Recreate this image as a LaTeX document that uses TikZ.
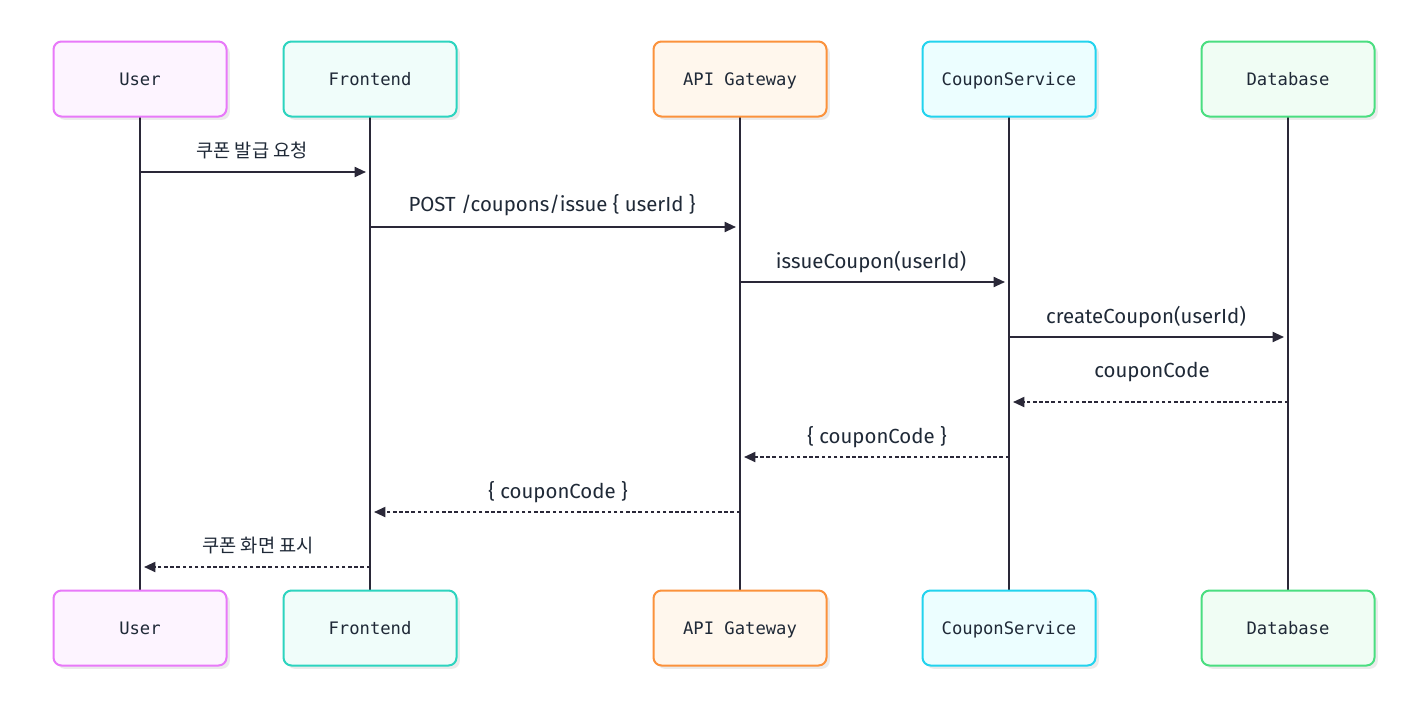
\documentclass[tikz,border=0pt]{standalone}
\usepackage{fontspec}
\setmainfont{Fira Sans}
\newfontfamily\kr{Noto Sans CJK KR}
\newfontfamily\boxfont{DejaVu Sans Mono}
\usetikzlibrary{arrows.meta,shadows}
\definecolor{ink}{HTML}{2A2838}
\definecolor{txt}{HTML}{1F2937}
\definecolor{uB}{HTML}{E879F9}\definecolor{uF}{HTML}{FDF4FF}
\definecolor{fB}{HTML}{2DD4BF}\definecolor{fF}{HTML}{F0FDFA}
\definecolor{aB}{HTML}{FB923C}\definecolor{aF}{HTML}{FFF7ED}
\definecolor{cB}{HTML}{22D3EE}\definecolor{cF}{HTML}{ECFEFF}
\definecolor{dB}{HTML}{4ADE80}\definecolor{dF}{HTML}{F0FDF4}
\begin{document}
\begin{tikzpicture}[x=0.75pt,y=-0.75pt,
  actor/.style={rounded corners=6pt, line width=1.5pt, minimum width=129.75pt, minimum height=56.25pt,
    font=\boxfont\fontsize{12.9}{14}\selectfont, text=txt, inner sep=0pt,
    text height=9.4pt, text depth=0pt,
    drop shadow={shadow xshift=2.5pt, shadow yshift=-2.5pt, fill=black, opacity=0.08}},
  life/.style={ink, line width=1.5pt},
  msg/.style={ink, line width=1.4pt, -{Triangle[length=8.5pt,width=7.5pt]}},
  ret/.style={msg, dash pattern=on 2.6pt off 2pt},
  lbl/.style={font=\fontsize{15.3}{17}\selectfont, text=txt, inner sep=0pt},
  klbl/.style={font=\kr\fontsize{14}{16}\selectfont, text=txt, inner sep=0pt}]
\useasboundingbox (0,0) rectangle (1424,701);
\fill[white] (0,0) rectangle (1424,701);
% lifelines
\foreach \n/\x in {u/140,f/370,a/740,c/1009,d/1288}{
  \coordinate (\n t) at (\x,117);
  \coordinate (\n b) at (\x,591);
  \draw[life] (\n t) -- (\n b);
}
% boxes
\foreach \n/\x/\t/\b/\f in {u/140/User/uB/uF, f/370/Frontend/fB/fF, a/740/API Gateway/aB/aF, c/1009/CouponService/cB/cF, d/1288/Database/dB/dF}{
  \node[actor, draw=\b, fill=\f] (\n top) at (\x,79) {\t};
  \node[actor, draw=\b, fill=\f] (\n bot) at (\x,628) {\t};
}
% message anchors
\foreach \n/\x in {u/140,f/370,a/740,c/1009,d/1288}{
  \foreach \i/\y in {1/172,2/227,3/282,4/337,5/402,6/457,7/512,8/567}{
    \coordinate (\n\i) at (\x,\y);
  }
}
\draw[msg, shorten >=3pt] (u1) -- (f1);
\node[klbl] (l1) at (252,150) {쿠폰 발급 요청};
\draw[msg, shorten >=3pt] (f2) -- (a2);
\node[lbl] (l2) at (552,205) {POST /coupons/issue \{ userId \}};
\draw[msg, shorten >=3pt] (a3) -- (c3);
\node[lbl] (l3) at (871,262) {issueCoupon(userId)};
\draw[msg, shorten >=3pt] (c4) -- (d4);
\node[lbl] (l4) at (1146,317) {createCoupon(userId)};
\draw[ret, shorten >=3pt] (d5) -- (c5);
\node[lbl] (l5) at (1152,372) {couponCode};
\draw[ret, shorten >=3pt] (c6) -- (a6);
\node[lbl] (l6) at (877,437) {\{ couponCode \}};
\draw[ret, shorten >=3pt] (a7) -- (f7);
\node[lbl] (l7) at (558,492) {\{ couponCode \}};
\draw[ret, shorten >=3pt] (f8) -- (u8);
\node[klbl] (l8) at (258,546) {쿠폰 화면 표시};
\end{tikzpicture}
\end{document}
